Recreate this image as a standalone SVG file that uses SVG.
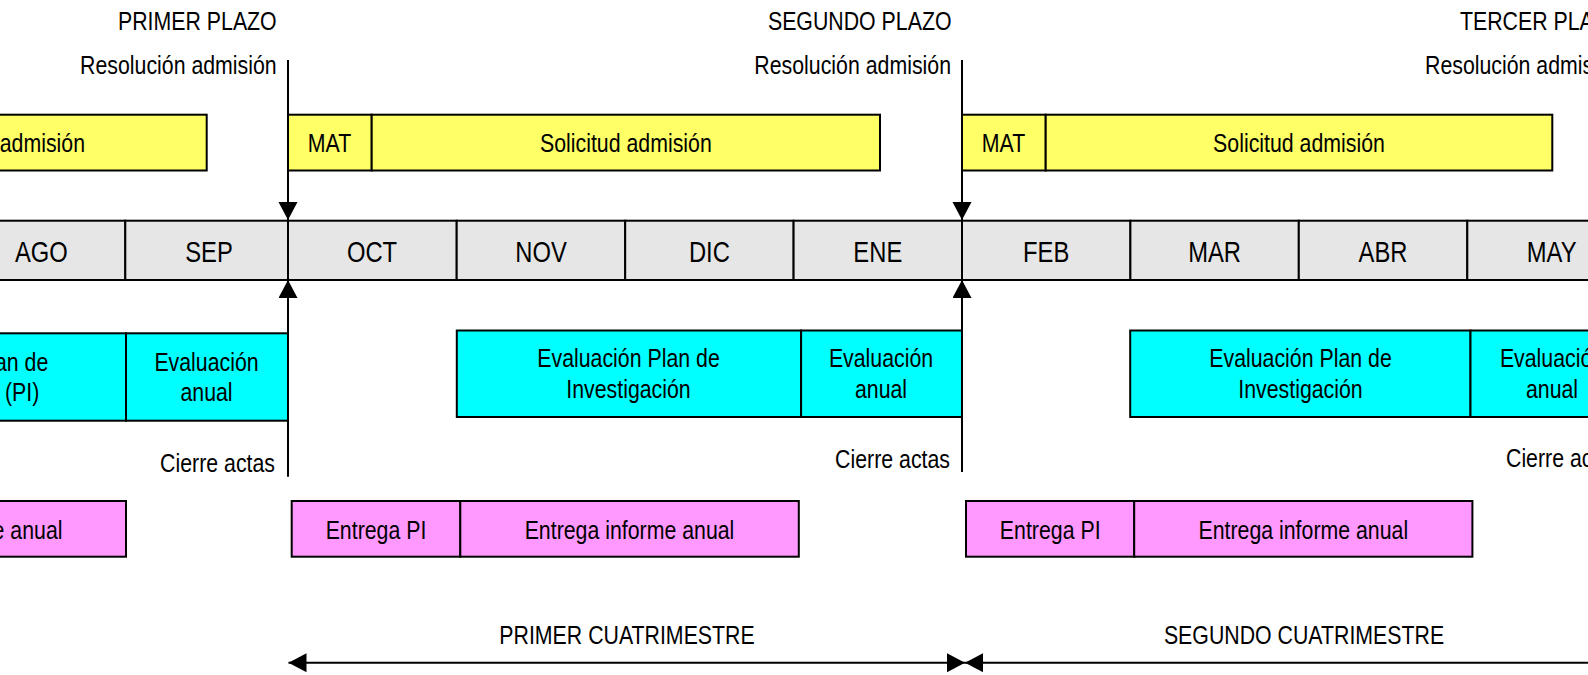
<svg xmlns="http://www.w3.org/2000/svg" width="1588" height="675" viewBox="0 0 1588 675">
<style>
text{font-family:"Liberation Sans",Arial,sans-serif;font-size:26px;fill:#000}
.m{font-size:29px;text-anchor:middle}
.c{text-anchor:middle}
.e{text-anchor:end}
.box{stroke:#000;stroke-width:2}
.y{fill:#FFFF66}
.cy{fill:#00FFFF}
.p{fill:#FF99FF}
.g{fill:#E6E6E6}
.ln{stroke:#000;stroke-width:2;fill:none}
</style>
<defs>
<marker id="ah" markerUnits="userSpaceOnUse" markerWidth="20" markerHeight="20" refX="18" refY="9.5" orient="auto-start-reverse">
<path d="M0,0 L18,9.5 L0,19 Z" fill="#000"/>
</marker>
</defs>
<rect width="1588" height="675" fill="#fff"/>

<g id="top-labels">
<text class="e" transform="translate(276.7 30) scale(0.82 1)">PRIMER PLAZO</text>
<text class="e" transform="translate(951.5 30) scale(0.82 1)">SEGUNDO PLAZO</text>
<text transform="translate(1460 30) scale(0.82 1)">TERCER PLAZO</text>
<text class="e" transform="translate(276.7 74) scale(0.82 1)">Resolución admisión</text>
<text class="e" transform="translate(951 74) scale(0.82 1)">Resolución admisión</text>
<text transform="translate(1425 74) scale(0.82 1)">Resolución admisión</text>
</g>

<g id="yellow-0"><rect class="box y" x="-220" y="114.7" width="426.7" height="55.8"/><text class="e" transform="translate(85 152.3) scale(0.82 1)">Solicitud admisión</text></g>
<g id="mat-1"><rect class="box y" x="288" y="114.7" width="83.7" height="55.8"/><text class="c" transform="translate(329.5 152.3) scale(0.82 1)">MAT</text></g>
<g id="sol-1"><rect class="box y" x="371.7" y="114.7" width="508.3" height="55.8"/><text class="c" transform="translate(625.9 152.3) scale(0.82 1)">Solicitud admisión</text></g>
<g id="mat-2"><rect class="box y" x="962" y="114.7" width="83.7" height="55.8"/><text class="c" transform="translate(1003.5 152.3) scale(0.82 1)">MAT</text></g>
<g id="sol-2"><rect class="box y" x="1045.7" y="114.7" width="506.6" height="55.8"/><text class="c" transform="translate(1299 152.3) scale(0.82 1)">Solicitud admisión</text></g>

<g id="months">
<g id="m-ago"><rect class="box g" x="-45" y="220.7" width="170.3" height="59.3"/><text class="m" transform="translate(41.3 262.3) scale(0.82 1)">AGO</text></g>
<g id="m-sep"><rect class="box g" x="125.3" y="220.7" width="162.7" height="59.3"/><text class="m" transform="translate(209 262.3) scale(0.82 1)">SEP</text></g>
<g id="m-oct"><rect class="box g" x="288" y="220.7" width="168.7" height="59.3"/><text class="m" transform="translate(372 262.3) scale(0.82 1)">OCT</text></g>
<g id="m-nov"><rect class="box g" x="456.7" y="220.7" width="168.5" height="59.3"/><text class="m" transform="translate(541 262.3) scale(0.82 1)">NOV</text></g>
<g id="m-dic"><rect class="box g" x="625.2" y="220.7" width="168.4" height="59.3"/><text class="m" transform="translate(709.4 262.3) scale(0.82 1)">DIC</text></g>
<g id="m-ene"><rect class="box g" x="793.6" y="220.7" width="168.4" height="59.3"/><text class="m" transform="translate(877.8 262.3) scale(0.82 1)">ENE</text></g>
<g id="m-feb"><rect class="box g" x="962" y="220.7" width="168.4" height="59.3"/><text class="m" transform="translate(1046.2 262.3) scale(0.82 1)">FEB</text></g>
<g id="m-mar"><rect class="box g" x="1130.4" y="220.7" width="168.4" height="59.3"/><text class="m" transform="translate(1214.6 262.3) scale(0.82 1)">MAR</text></g>
<g id="m-abr"><rect class="box g" x="1298.8" y="220.7" width="168.5" height="59.3"/><text class="m" transform="translate(1383 262.3) scale(0.82 1)">ABR</text></g>
<g id="m-may"><rect class="box g" x="1467.3" y="220.7" width="170" height="59.3"/><text class="m" transform="translate(1551.7 262.3) scale(0.82 1)">MAY</text></g>
</g>

<g id="cyan-0"><rect class="box cy" x="-230" y="333.3" width="356" height="87.4"/><text class="e" transform="translate(48.3 370.5) scale(0.82 1)">Evaluación Plan de</text><text class="e" transform="translate(39.3 401) scale(0.82 1)">Investigación (PI)</text></g>
<g id="cyan-1"><rect class="box cy" x="126" y="333.3" width="162" height="87.4"/><text class="c" transform="translate(206.5 370.5) scale(0.82 1)">Evaluación</text><text class="c" transform="translate(206.5 401) scale(0.82 1)">anual</text></g>
<g id="cyan-2"><rect class="box cy" x="456.8" y="330.5" width="344.3" height="86.5"/><text class="c" transform="translate(628.5 367) scale(0.82 1)">Evaluación Plan de</text><text class="c" transform="translate(628.5 397.5) scale(0.82 1)">Investigación</text></g>
<g id="cyan-3"><rect class="box cy" x="801.1" y="330.5" width="160.9" height="86.5"/><text class="c" transform="translate(881 367) scale(0.82 1)">Evaluación</text><text class="c" transform="translate(881 397.5) scale(0.82 1)">anual</text></g>
<g id="cyan-4"><rect class="box cy" x="1130.2" y="330.5" width="340.3" height="86.5"/><text class="c" transform="translate(1300.5 367) scale(0.82 1)">Evaluación Plan de</text><text class="c" transform="translate(1300.5 397.5) scale(0.82 1)">Investigación</text></g>
<g id="cyan-5"><rect class="box cy" x="1470.5" y="330.5" width="163" height="86.5"/><text class="c" transform="translate(1552 367) scale(0.82 1)">Evaluación</text><text class="c" transform="translate(1552 397.5) scale(0.82 1)">anual</text></g>

<g id="cierre-labels">
<text class="e" transform="translate(275 472) scale(0.82 1)">Cierre actas</text>
<text class="e" transform="translate(950 468) scale(0.82 1)">Cierre actas</text>
<text transform="translate(1506 467) scale(0.82 1)">Cierre actas</text>
</g>

<g id="pink-0"><rect class="box p" x="-220" y="501" width="346" height="55.7"/><text class="e" transform="translate(62.5 539.3) scale(0.82 1)">Entrega informe anual</text></g>
<g id="pink-1"><rect class="box p" x="291.7" y="501" width="168.6" height="55.7"/><text class="c" transform="translate(376 539.3) scale(0.82 1)">Entrega PI</text></g>
<g id="pink-2"><rect class="box p" x="460.3" y="501" width="338.5" height="55.7"/><text class="c" transform="translate(629.5 539.3) scale(0.82 1)">Entrega informe anual</text></g>
<g id="pink-3"><rect class="box p" x="966" y="501" width="168.2" height="55.7"/><text class="c" transform="translate(1050.2 539.3) scale(0.82 1)">Entrega PI</text></g>
<g id="pink-4"><rect class="box p" x="1134.2" y="501" width="338.2" height="55.7"/><text class="c" transform="translate(1303.3 539.3) scale(0.82 1)">Entrega informe anual</text></g>

<g id="connectors">
<line class="ln" x1="288" y1="60" x2="288" y2="220" marker-end="url(#ah)"/>
<line class="ln" x1="288" y1="476.7" x2="288" y2="280" marker-end="url(#ah)"/>
<line class="ln" x1="962" y1="60" x2="962" y2="220" marker-end="url(#ah)"/>
<line class="ln" x1="962" y1="472" x2="962" y2="280" marker-end="url(#ah)"/>
<line class="ln" x1="288.5" y1="662.7" x2="965" y2="662.7" marker-start="url(#ah)" marker-end="url(#ah)"/>
<line class="ln" x1="965" y1="662.7" x2="1650" y2="662.7" marker-start="url(#ah)"/>
</g>

<g id="period-labels">
<text class="c" transform="translate(627 644) scale(0.82 1)">PRIMER CUATRIMESTRE</text>
<text class="c" transform="translate(1304 644) scale(0.82 1)">SEGUNDO CUATRIMESTRE</text>
</g>
</svg>
